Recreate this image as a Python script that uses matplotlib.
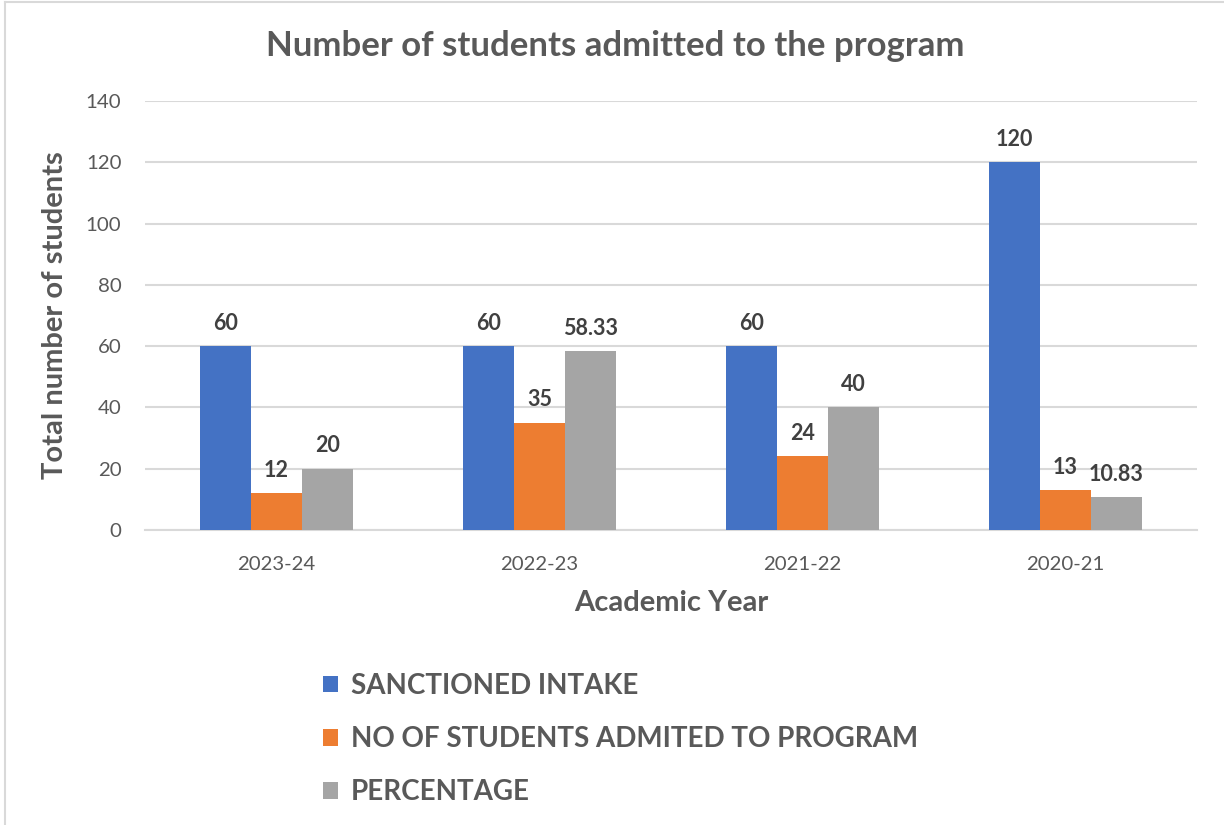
import numpy as np
import matplotlib
matplotlib.use("Agg")
from matplotlib import pyplot as plt
from matplotlib.lines import Line2D

plt.rcParams['font.family'] = ['Lato', 'DejaVu Sans']

years = ['2023-24', '2022-23', '2021-22', '2020-21']
sanctioned = [60, 60, 60, 120]
admitted = [12, 35, 24, 13]
percentage = [20, 58.33, 40, 10.83]
series_names = ['SANCTIONED INTAKE', 'NO OF STUDENTS ADMITED TO PROGRAM', 'PERCENTAGE']
colors = ['#4472C4', '#ED7D31', '#A5A5A5']

text_grey = '#595959'
label_grey = '#404040'
grid_grey = '#D9D9D9'

W, H = 1224, 825
fig = plt.figure(figsize=(W / 100, H / 100), dpi=100)

# chart area border (only left and top edges visible)
fig.add_artist(Line2D([5 / W, 5 / W], [0, 1 - 2 / H], color=grid_grey, lw=1.5))
fig.add_artist(Line2D([5 / W, 1], [1 - 2 / H, 1 - 2 / H], color=grid_grey, lw=1.5))

left, right, top, bottom = 145, 1197, 101, 530
ax = fig.add_axes([left / W, 1 - bottom / H, (right - left) / W, (bottom - top) / H])

x = np.arange(len(years))
bw = 0.194
for i, (vals, c) in enumerate(zip([sanctioned, admitted, percentage], colors)):
    pos = x + (i - 1) * bw
    ax.bar(pos, vals, bw, color=c, zorder=3, label=series_names[i])
    for p, v in zip(pos, vals):
        ax.text(p, v + 4, f"{v:g}", ha='center', va='bottom', fontsize=15.5,
                fontweight='bold', color=label_grey)

ax.set_xlim(-0.5, len(years) - 0.5)
ax.set_ylim(0, 140)
ax.set_yticks(range(0, 141, 20))
ax.set_xticks(x)
ax.set_xticklabels(years)
ax.grid(axis='y', color=grid_grey, lw=1.5, zorder=0)
for s in ['top', 'right', 'left']:
    ax.spines[s].set_visible(False)
ax.spines['bottom'].set_color(grid_grey)
ax.spines['bottom'].set_linewidth(1.5)
ax.tick_params(axis='both', length=0, labelsize=14.7, colors=text_grey)
ax.tick_params(axis='y', pad=17)
ax.tick_params(axis='x', pad=19)

ax.set_xlabel('Academic Year', fontsize=21, fontweight='bold', color=text_grey, labelpad=12)
ax.set_ylabel('Total number of students', fontsize=21, fontweight='bold', color=text_grey, labelpad=13)

fig.text(615 / W, 1 - 46 / H, 'Number of students admitted to the program', ha='center',
         va='center', fontsize=25, fontweight='bold', color=text_grey)

leg = fig.legend(loc='upper left', bbox_to_anchor=(309 / W, 1 - 659 / H), frameon=False,
                 fontsize=20, handlelength=0.55, handleheight=0.55, handletextpad=0.45,
                 labelspacing=0.98, borderpad=0)
for t in leg.get_texts():
    t.set_color(text_grey)
    t.set_fontweight('bold')

fig.savefig('out.png', dpi=100, facecolor='white')
